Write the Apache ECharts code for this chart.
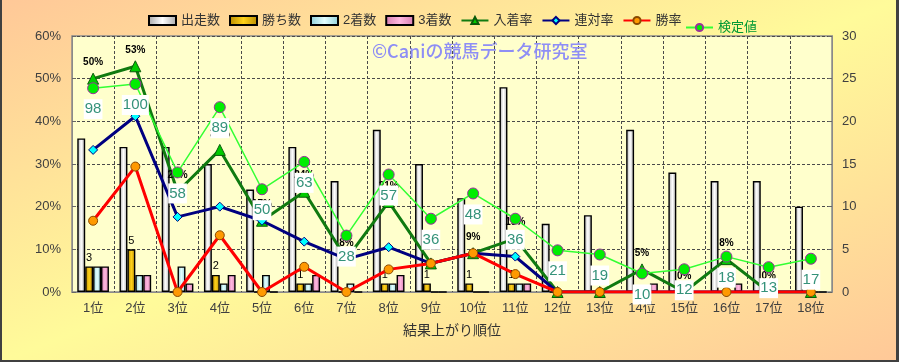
<!DOCTYPE html>
<html><head><meta charset="utf-8">
<script src="https://cdn.jsdelivr.net/npm/echarts@6/dist/echarts.min.js"></script>
<style>html,body{margin:0;padding:0;background:#fff;}#c{width:899px;height:362px;}</style>
</head><body><div id="c"></div>
<script>
// ---- data ----
const categories = ['1位','2位','3位','4位','5位','6位','7位','8位','9位','10位','11位','12位','13位','14位','15位','16位','17位','18位'];
const runs    = [18,17,17,15,12,17,13,19,15,11,24,8,9,19,14,13,13,10];
const wins    = [3,5,0,2,0,1,0,1,1,1,1,0,0,0,0,0,0,0];
const seconds = [3,2,3,1,2,1,1,1,0,0,1,0,0,0,0,0,0,0];
const thirds  = [3,2,1,2,0,2,0,2,0,0,1,0,0,1,0,1,0,0];
const placeRate    = [50.0,52.9,23.5,33.3,16.7,23.5,7.7,21.1,6.7,9.1,12.5,0,0,5.3,0,7.7,0,0];
const quinellaRate = [33.3,41.2,17.6,20.0,16.7,11.8,7.7,10.5,6.7,9.1,8.3,0,0,0,0,0,0,0];
const winRate      = [16.7,29.4,0,13.3,0,5.9,0,5.3,6.7,9.1,4.2,0,0,0,0,0,0,0];
const testValue    = [98,100,58,89,50,63,28,57,36,48,36,21,19,10,12,18,13,17];
const leftTicks  = ['0%','10%','20%','30%','40%','50%','60%'];
const rightTicks = ['0','5','10','15','20','25','30'];

const FONT = "'Liberation Sans','Noto Sans CJK JP',sans-serif";
const chart = echarts.init(document.getElementById('c'));

function hGrad(edge, mid) {
  return {type:'linear', x:0, y:0, x2:1, y2:0, colorStops:[
    {offset:0, color:edge},{offset:0.5, color:mid},{offset:1, color:edge}]};
}
function barSeries(name, data, fill, withLabel) {
  return {
    name, type:'bar', yAxisIndex:1, data,
    barGap:'0%', barCategoryGap:'25%',
    itemStyle:{color:fill, borderColor:'#000', borderWidth:1.4},
    label: withLabel ? {show:true, position:'top', distance:3, fontSize:11, color:'#000', fontFamily:FONT,
      formatter:p => p.value > 0 ? String(p.value) : ''} : {show:false},
    z:2
  };
}

const option = {
  animation:false,
  backgroundColor:{type:'linear', x:0, y:0, x2:251, y2:623, global:true, colorStops:[
    {offset:0, color:'#ffc898'},{offset:0.5, color:'#fffb9a'},{offset:1, color:'#ffc898'}]},
  textStyle:{fontFamily:FONT},
  grid:{left:72, right:67, top:36, bottom:70, show:true, backgroundColor:'#ffffcc', borderColor:'#8a8a8a', borderWidth:1.5},
  legend:[
    {data:[{name:'出走数',icon:'rect'},{name:'勝ち数',icon:'rect'},{name:'2着数',icon:'rect'},{name:'3着数',icon:'rect'},'入着率','連対率','勝率'],
     left:143, top:9, itemWidth:27, itemHeight:9, itemGap:9,
     textStyle:{fontSize:13, color:'#333', fontFamily:FONT}},
    {data:['検定値'], left:680, top:16, itemWidth:27, itemHeight:9,
     textStyle:{fontSize:13, color:'#009933', fontFamily:FONT}}
  ],
  xAxis:{type:'category', data:categories,
    axisLine:{lineStyle:{color:'#8a8a8a'}}, axisTick:{show:false},
    axisLabel:{fontSize:13, color:'#404040', margin:10, interval:0},
    splitLine:{show:true, interval:0, lineStyle:{color:'#4a4a4a', type:[3,2], width:1}},
    name:'結果上がり順位', nameLocation:'middle', nameGap:32,
    nameTextStyle:{fontSize:14, color:'#333'}},
  yAxis:[
    {type:'value', min:0, max:60, interval:10,
     axisLine:{show:true, lineStyle:{color:'#8a8a8a'}}, axisTick:{show:true, inside:true, length:4, lineStyle:{color:'#666'}},
     axisLabel:{fontSize:13, color:'#404040', margin:11, formatter:v => leftTicks[Math.round(v/10)]},
     splitLine:{show:true, lineStyle:{color:'#4a4a4a', type:[3,2], width:1}}},
    {type:'value', min:0, max:30, interval:5, position:'right',
     axisLine:{show:true, lineStyle:{color:'#8a8a8a'}}, axisTick:{show:true, inside:true, length:4, lineStyle:{color:'#666'}},
     axisLabel:{fontSize:13, color:'#404040', margin:10, formatter:v => rightTicks[Math.round(v/5)]},
     splitLine:{show:false}},
    {type:'value', min:1.2, max:122.8, show:false, splitLine:{show:false}}
  ],
  graphic:[
    {type:'text', left:372, top:42, z:1, style:{text:'©Caniの競馬データ研究室', fill:'#8e8ef5', fontSize:18, fontWeight:500, fontFamily:"'Noto Sans CJK JP',sans-serif"}},
    {type:'rect', left:0, top:0, shape:{width:2, height:362}, style:{fill:'#404040'}},
    {type:'rect', left:896, top:0, shape:{width:3, height:362}, style:{fill:'#404040'}},
    {type:'rect', left:0, top:360, shape:{width:899, height:2}, style:{fill:'#404040'}}
  ],
  series:[
    barSeries('出走数', runs, hGrad('#a8a8a8','#ffffff'), false),
    barSeries('勝ち数', wins, hGrad('#b88a00','#ffd21a'), true),
    barSeries('2着数', seconds, hGrad('#8fcfd8','#e4ffff'), false),
    barSeries('3着数', thirds, hGrad('#d77fb0','#ffb8e0'), false),
    {name:'入着率', type:'line', yAxisIndex:0, data:placeRate, z:3,
     lineStyle:{color:'#107a10', width:3}, symbol:'triangle', symbolSize:11,
     itemStyle:{color:'#00cc00', borderColor:'#0a5a0a', borderWidth:1},
     label:{show:true, position:'top', distance:5, fontSize:10, fontWeight:'bold', color:'#000', fontFamily:FONT,
       formatter:p => Math.round(p.value) + '%'}},
    {name:'連対率', type:'line', yAxisIndex:0, data:quinellaRate, z:4,
     lineStyle:{color:'#000080', width:3}, symbol:'diamond', symbolSize:9,
     itemStyle:{color:'#00ffff', borderColor:'#000080', borderWidth:1}},
    {name:'勝率', type:'line', yAxisIndex:0, data:winRate, z:5,
     lineStyle:{color:'#ff0000', width:3}, symbol:'circle', symbolSize:9,
     itemStyle:{color:'#ff9900', borderColor:'#8a4a00', borderWidth:1}},
    {name:'検定値', type:'line', yAxisIndex:2, data:testValue, z:6,
     lineStyle:{color:'#33ff33', width:1.5}, symbol:'circle', symbolSize:11,
     itemStyle:{color:'#00ee00', borderColor:'#993399', borderWidth:1},
     label:{show:true, position:'bottom', distance:5, fontSize:15, lineHeight:16, color:'#34927a',
       backgroundColor:'#ffffff', padding:[2,1], fontFamily:FONT}}
  ]
};
chart.setOption(option);
</script>
</body></html>
